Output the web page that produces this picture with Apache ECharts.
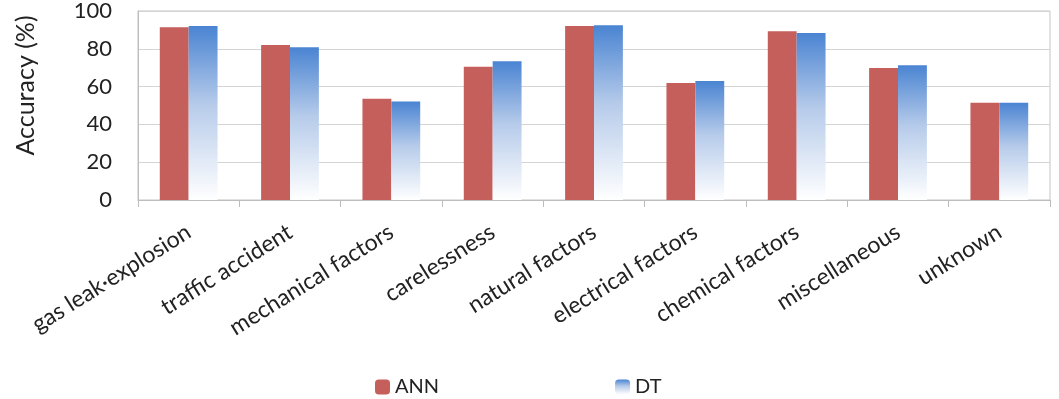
<!DOCTYPE html>
<html>
<head>
<meta charset="utf-8">
<script src="https://cdn.jsdelivr.net/npm/echarts@6/dist/echarts.min.js"></script>
<style>
  html, body { margin: 0; padding: 0; background: #fff; }
  #chart { width: 1059px; height: 399px; }
</style>
</head>
<body>
<div id="chart"></div>
<script>
var categories = ['gas leak\u00b7explosion', 'traffic accident', 'mechanical factors', 'carelessness',
    'natural factors', 'electrical factors', 'chemical factors', 'miscellaneous', 'unknown'];
var annValues = [91.4, 82.0, 53.6, 70.5, 92.0, 61.9, 89.3, 69.9, 51.5];
var dtValues = [92.0, 80.8, 52.1, 73.4, 92.4, 63.0, 88.3, 71.3, 51.5];

var font = 'Lato, "Open Sans", sans-serif';

var chart = echarts.init(document.getElementById('chart'));

var option = {
    animation: false,
    grid: {
        left: 138, right: 9, top: 6, bottom: 199,
        show: true, borderColor: '#c4c4c4', borderWidth: 1
    },
    legend: {
        left: 375, top: 377, padding: 0,
        itemWidth: 15, itemHeight: 15, itemGap: 176,
        textStyle: { fontFamily: font, fontSize: 20, color: '#222' },
        data: ['ANN', 'DT']
    },
    xAxis: {
        type: 'category',
        data: categories,
        axisLine: { lineStyle: { color: '#bdbdbd' } },
        axisTick: { show: true, length: 7, lineStyle: { color: '#bdbdbd' } },
        axisLabel: {
            rotate: 32, margin: 30, interval: 0,
            fontFamily: font, fontSize: 23, color: '#222'
        }
    },
    yAxis: {
        type: 'value',
        min: 0, max: 100, interval: 20,
        name: 'Accuracy (%)',
        nameLocation: 'middle',
        nameGap: 100,
        nameTextStyle: { fontFamily: font, fontSize: 25, color: '#222', padding: [0, 0, 0, 40] },
        axisLine: { show: true, lineStyle: { color: '#bdbdbd' } },
        axisTick: { show: false },
        axisLabel: { margin: 26, fontFamily: font, fontSize: 22, color: '#222' },
        splitLine: { lineStyle: { color: '#d4d4d4' } }
    },
    series: [
        {
            name: 'ANN',
            type: 'bar',
            data: annValues,
            barGap: '0%',
            barCategoryGap: '43%',
            itemStyle: { color: '#c45f5c' }
        },
        {
            name: 'DT',
            type: 'bar',
            data: dtValues,
            itemStyle: {
                color: new echarts.graphic.LinearGradient(0, 0, 0, 1, [
                    { offset: 0, color: '#4a84d2' },
                    { offset: 0.45, color: '#b6cbea' },
                    { offset: 1, color: '#ffffff' }
                ])
            }
        }
    ]
};

chart.setOption(option);
</script>
</body>
</html>
